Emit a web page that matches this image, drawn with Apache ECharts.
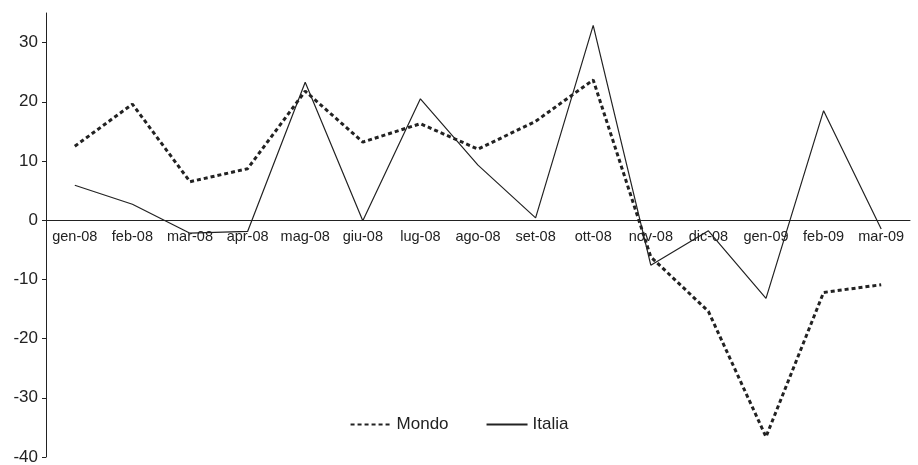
<!DOCTYPE html>
<html><head><meta charset="utf-8">
<script src="https://cdn.jsdelivr.net/npm/echarts@6/dist/echarts.min.js"></script>
<style>html,body{margin:0;padding:0;background:#fff}#c{width:918px;height:465px}</style>
</head><body><div id="c"></div>
<script>
const categories = ['gen-08','feb-08','mar-08','apr-08','mag-08','giu-08','lug-08','ago-08','set-08','ott-08','nov-08','dic-08','gen-09','feb-09','mar-09'];
const mondo = [12.5, 19.6, 6.5, 8.7, 21.8, 13.2, 16.3, 12.0, 16.7, 23.7, -6.2, -15.4, -36.6, -12.2, -10.9];
const italia = [5.9, 2.7, -2.2, -1.9, 23.3, -0.1, 20.5, 9.3, 0.4, 32.9, -7.6, -1.8, -13.2, 18.5, -1.5];
const yTicks = [-40, -30, -20, -10, 0, 10, 20, 30];

const chart = echarts.init(document.getElementById('c'));
const font = 'Liberation Sans, Arial, sans-serif';
chart.setOption({
  animation: false,
  textStyle: {fontFamily: font},
  grid: {left: 46, right: 8, top: 13, bottom: 8, containLabel: false, outerBoundsMode: 'none'},
  legend: {
    top: 411, left: 'center', itemGap: 37, itemWidth: 41, itemHeight: 10,
    itemStyle: {opacity: 0},
    textStyle: {fontSize: 17, color: '#222', fontFamily: font},
    data: ['Mondo', 'Italia']
  },
  xAxis: {
    type: 'category', data: categories, boundaryGap: true, position: 'bottom', offset: 0,
    axisLine: {onZero: false, lineStyle: {color: '#222', width: 1}},
    axisTick: {inside: true, length: 4, lineStyle: {color: '#222'}},
    axisLabel: {color: '#222', fontSize: 14.5, margin: 9, interval: 0, fontFamily: font},
    splitLine: {show: false}
  },
  yAxis: {
    type: 'value', min: -40, max: 35, interval: 10,
    axisLine: {show: true, lineStyle: {color: '#222', width: 1}},
    axisTick: {show: true, length: 4, customValues: yTicks, lineStyle: {color: '#222'}},
    axisLabel: {color: '#222', fontSize: 17, margin: 8, customValues: yTicks, fontFamily: font},
    splitLine: {show: false}
  },
  series: [
    {name: 'Mondo', type: 'line', data: mondo, symbol: 'none',
     lineStyle: {color: '#222', width: 3, type: [4, 3]}, itemStyle: {color: '#222'}},
    {name: 'Italia', type: 'line', data: italia, symbol: 'none',
     lineStyle: {color: '#222', width: 1.2}, itemStyle: {color: '#222'}}
  ]
});
// move the category axis (line + labels) up to the zero line
const zeroY = chart.convertToPixel({yAxisIndex: 0}, 0);
const bottomY = chart.convertToPixel({yAxisIndex: 0}, -40);
chart.setOption({xAxis: {offset: -(bottomY - zeroY)}});
</script></body></html>
